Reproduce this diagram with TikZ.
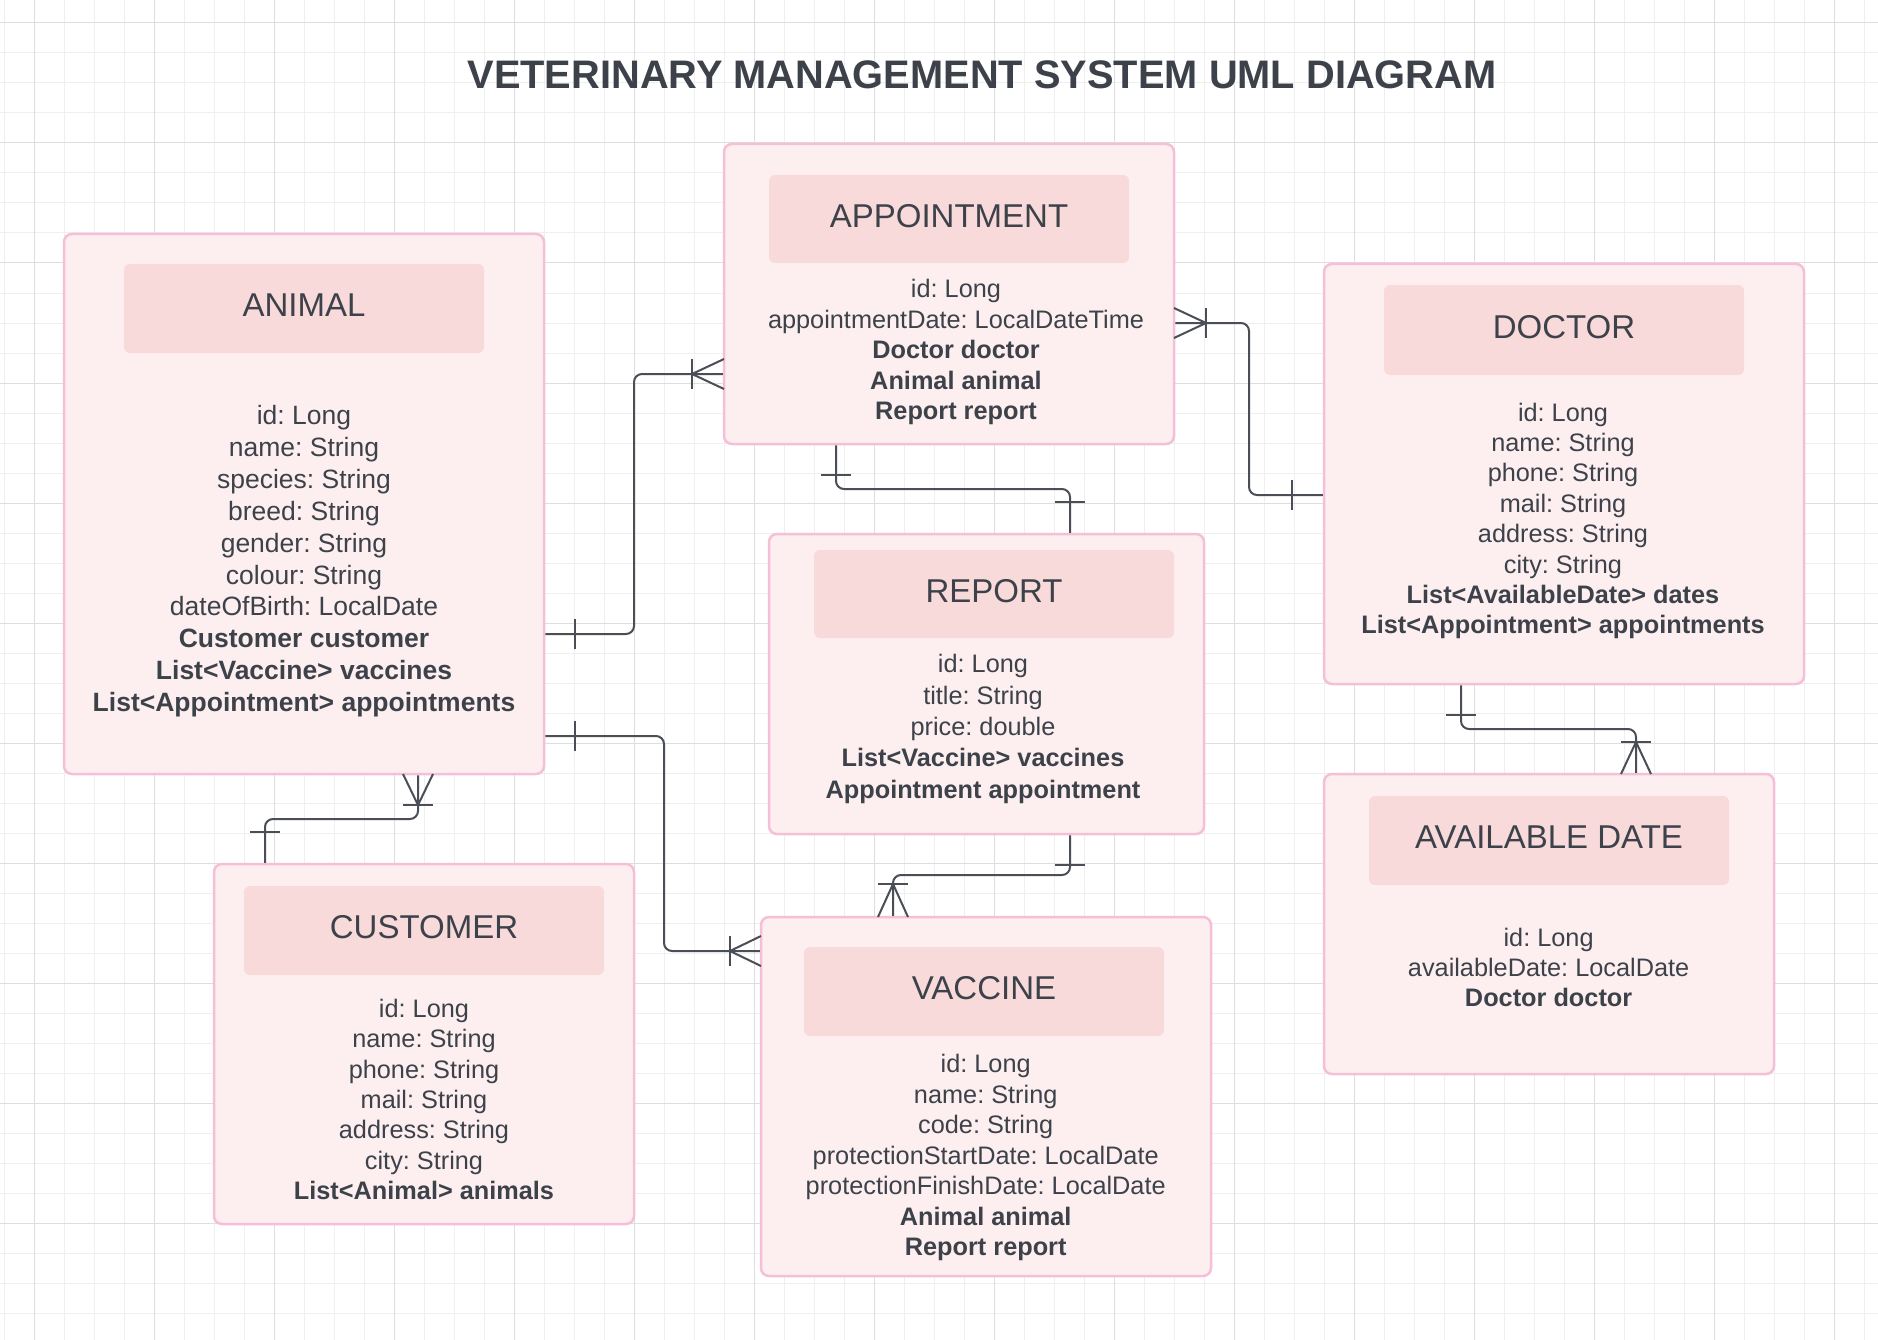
\documentclass[tikz,border=0pt]{standalone}
\usepackage{fontspec}
\setmainfont{Liberation Sans}
\frenchspacing
\definecolor{gridminor}{HTML}{EFEFEF}
\definecolor{gridmajor}{HTML}{DEDEDE}
\definecolor{boxfill}{HTML}{FDEFF0}
\definecolor{boxline}{HTML}{F5BFD7}
\definecolor{headfill}{HTML}{F8DADA}
\definecolor{ink}{HTML}{3D424A}
\definecolor{conn}{HTML}{4A4F57}
\tikzset{
  entity/.style={draw=boxline, fill=boxfill, line width=2.5pt, rounded corners=8pt, inner sep=0pt},
  head/.style={fill=headfill, rounded corners=6pt, minimum width=360pt, inner sep=0pt, text=ink, text depth=7pt, font=\fontsize{33}{40}\selectfont},
  attrs/.style={anchor=north, align=center, inner sep=0pt, text=ink},
  link/.style={draw=conn, line width=2pt, rounded corners=8pt},
  endmark/.style={draw=conn, line width=2pt, sharp corners},
}
\begin{document}
\begin{tikzpicture}[x=1pt,y=-1pt]
\useasboundingbox (0,0) rectangle (1878,1340);
\fill[white] (0,0) rectangle (1878,1340);
% grid
\foreach \gx in {4,34,...,1878} \draw[gridminor, line width=1pt] (\gx,0) -- (\gx,1340);
\foreach \gy in {23,53,...,1340} \draw[gridminor, line width=1pt] (0,\gy) -- (1878,\gy);
\foreach \gx in {34,154,...,1878} \draw[gridmajor, line width=1pt] (\gx,0) -- (\gx,1340);
\foreach \gy in {23,143,...,1340} \draw[gridmajor, line width=1pt] (0,\gy) -- (1878,\gy);

% title
\node[text=ink, font=\fontsize{39.8}{48}\selectfont\bfseries, inner sep=0pt] (title) at (982,75) {VETERINARY MANAGEMENT SYSTEM UML DIAGRAM};

% entity boxes
\node[entity, minimum width=480pt, minimum height=540pt] (animal) at (304,504) {};
\node[entity, minimum width=450pt, minimum height=300pt] (appt) at (949,294) {};
\node[entity, minimum width=480pt, minimum height=420pt] (doctor) at (1564,474) {};
\node[entity, minimum width=435pt, minimum height=300pt] (report) at (986.5,684) {};
\node[entity, minimum width=450pt, minimum height=300pt] (avail) at (1549,924) {};
\node[entity, minimum width=420pt, minimum height=360pt] (customer) at (424,1044) {};
\node[entity, minimum width=450pt, minimum height=359pt] (vaccine) at (986,1096.5) {};

% headers
\node[head, minimum height=89pt] (animalH) at (304,308.5) {ANIMAL};
\node[head, minimum height=88pt] (apptH) at (949,219) {APPOINTMENT};
\node[head, minimum height=90pt] (doctorH) at (1564,330) {DOCTOR};
\node[head, minimum height=88pt] (reportH) at (994,594) {REPORT};
\node[head, minimum height=89pt] (customerH) at (424,930.5) {CUSTOMER};
\node[head, minimum height=89pt] (vaccineH) at (984,991.5) {VACCINE};
\node[head, minimum height=89pt] (availH) at (1549,840.5) {AVAILABLE DATE};

% attributes
\node[attrs, font=\fontsize{26.5}{31.86}\selectfont] (animalA) at (304,405.3) {id: Long\\name: String\\species: String\\breed: String\\gender: String\\colour: String\\dateOfBirth: LocalDate\\\textbf{Customer customer}\\\textbf{List<Vaccine> vaccines}\\\textbf{List<Appointment> appointments}};
\node[attrs, font=\fontsize{25.3}{30.5}\selectfont] (apptA) at (956,279.2) {id: Long\\appointmentDate: LocalDateTime\\\textbf{Doctor doctor}\\\textbf{Animal animal}\\\textbf{Report report}};
\node[attrs, font=\fontsize{25.3}{30.4}\selectfont] (doctorA) at (1563,402.6) {id: Long\\name: String\\phone: String\\mail: String\\address: String\\city: String\\\textbf{List<AvailableDate> dates}\\\textbf{List<Appointment> appointments}};
\node[attrs, font=\fontsize{25.3}{31.4}\selectfont] (reportA) at (983,654.1) {id: Long\\title: String\\price: double\\\textbf{List<Vaccine> vaccines}\\\textbf{Appointment appointment}};
\node[attrs, font=\fontsize{25.3}{30.3}\selectfont] (customerA) at (424,999.1) {id: Long\\name: String\\phone: String\\mail: String\\address: String\\city: String\\\textbf{List<Animal> animals}};
\node[attrs, font=\fontsize{25.3}{30.5}\selectfont] (vaccineA) at (985.7,1054.2) {id: Long\\name: String\\code: String\\protectionStartDate: LocalDate\\protectionFinishDate: LocalDate\\\textbf{Animal animal}\\\textbf{Report report}};
\node[attrs, font=\fontsize{25.3}{30}\selectfont] (availA) at (1548.6,928.4) {id: Long\\availableDate: LocalDate\\\textbf{Doctor doctor}};

% elbow coordinates
\coordinate (e1a) at (634,634); \coordinate (e1b) at (634,374);
\coordinate (e2a) at (836,489); \coordinate (e2b) at (1070,489);
\coordinate (e3a) at (1249,323); \coordinate (e3b) at (1249,495);
\coordinate (e4a) at (664,736); \coordinate (e4b) at (664,951);
\coordinate (e5a) at (418,819); \coordinate (e5b) at (265,819);
\coordinate (e6a) at (1070,875); \coordinate (e6b) at (893,875);
\coordinate (e7a) at (1461,729); \coordinate (e7b) at (1636,729);

% connectors
\draw[link] (animal.east |- e1a) -- (e1a) -- (e1b) -- (appt.west |- e1b);
\draw[link] (appt.south -| e2a) -- (e2a) -- (e2b) -- (report.north -| e2b);
\draw[link] (appt.east |- e3a) -- (e3a) -- (e3b) -- (doctor.west |- e3b);
\draw[link] (animal.east |- e4a) -- (e4a) -- (e4b) -- (vaccine.west |- e4b);
\draw[link] (animal.south -| e5a) -- (e5a) -- (e5b) -- (customer.north -| e5b);
\draw[link] (report.south -| e6a) -- (e6a) -- (e6b) -- (vaccine.north -| e6b);
\draw[link] (doctor.south -| e7a) -- (e7a) -- (e7b) -- (avail.north -| e7b);

% end marks
% 1 animal -> appointment
\draw[endmark] (575,619) -- (575,649);
\draw[endmark] (692,359) -- (692,389);
\draw[endmark] (724,359) -- (692,374) -- (724,389);
% 2 appointment -> report
\draw[endmark] (821,475) -- (851,475);
\draw[endmark] (1055,502) -- (1085,502);
% 3 appointment -> doctor
\draw[endmark] (1206,308) -- (1206,338);
\draw[endmark] (1174,308) -- (1206,323) -- (1174,338);
\draw[endmark] (1292,480) -- (1292,510);
% 4 animal -> vaccine
\draw[endmark] (575,721) -- (575,751);
\draw[endmark] (730,936) -- (730,966);
\draw[endmark] (761,936) -- (730,951) -- (761,966);
% 5 animal -> customer
\draw[endmark] (403,805) -- (433,805);
\draw[endmark] (403,774) -- (418,805) -- (433,774);
\draw[endmark] (250,832) -- (280,832);
% 6 report -> vaccine
\draw[endmark] (1055,865) -- (1085,865);
\draw[endmark] (878,884) -- (908,884);
\draw[endmark] (878,917) -- (893,884) -- (908,917);
% 7 doctor -> available date
\draw[endmark] (1446,715) -- (1476,715);
\draw[endmark] (1621,742) -- (1651,742);
\draw[endmark] (1621,774) -- (1636,742) -- (1651,774);
\end{tikzpicture}
\end{document}
